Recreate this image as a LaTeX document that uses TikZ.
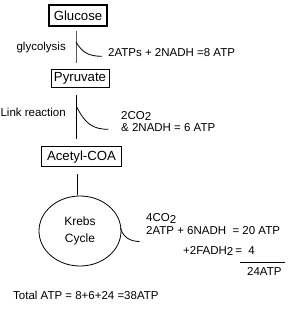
\documentclass[tikz,border=0pt]{standalone}
\usepackage{fontspec}
\setmainfont{Liberation Sans}
\usetikzlibrary{shapes.geometric}
\begin{document}
\begin{tikzpicture}[x=1pt,y=-1pt,
  txt/.style={inner sep=0pt,font=\fontsize{11.5}{13}\selectfont},
  stage/.style={draw,inner sep=0pt,font=\fontsize{13.2}{15}\selectfont},
  conn/.style={line width=0.8pt}]
\useasboundingbox (0,0) rectangle (287,316);
% boxes
\node[stage,line width=1.8pt,minimum width=58pt,minimum height=21.5pt] (glu) at (78,15.5) {Glucose};
\node[stage,line width=0.8pt,minimum width=58pt,minimum height=18pt] (pyr) at (80,78) {Pyruvate};
\node[stage,line width=0.8pt,minimum width=80pt,minimum height=20pt] (ace) at (81.5,156.7) {Acetyl-COA};
\node[draw,ellipse,line width=0.8pt,minimum width=82pt,minimum height=70pt,inner sep=0pt,align=center,font=\fontsize{12}{17}\selectfont] (krebs) at (80,231) {Krebs\\Cycle};
% vertical connectors
\coordinate (g1) at (76,30.5); \coordinate (g2) at (76,63);
\coordinate (p1) at (76.5,95); \coordinate (p2) at (76.5,138.5);
\coordinate (a1) at (77,174); \coordinate (a2) at (77,195);
\draw[line width=0.6pt,black!65] (g1) -- (g2);
\draw[line width=1pt] (p1) -- (p2);
\draw[line width=1pt] (a1) -- (a2);
% branch curves
\coordinate (gb) at (76,42); \coordinate (ge) at (102,56.3);
\draw[conn] (gb) .. controls (82,52) and (88,56.3) .. (ge);
\coordinate (pb) at (76.7,107); \coordinate (pe) at (108.3,129.3);
\draw[conn] (pb) .. controls (85,123) and (92,129.3) .. (pe);
\coordinate (kb) at (120.5,228); \coordinate (ke) at (139.5,241.5);
\draw[conn] (kb) .. controls (123,237) and (130,241.5) .. (ke);
% labels
\node[txt,anchor=east] (lglyc) at (66,48) {glycolysis};
\node[txt,anchor=west] (rglyc) at (108,53) {2ATPs + 2NADH =8 ATP};
\node[txt,anchor=east] (llink) at (66,112) {Link reaction};
\node[txt,anchor=west] (rlink1) at (121,115.5) {2CO\raisebox{-1pt}{2}};
\node[txt,anchor=west] (rlink2) at (121,127.5) {\& 2NADH = 6 ATP};
\node[txt,anchor=west] (k1) at (146,218.5) {4CO\raisebox{-1.5pt}{2}};
\node[txt,anchor=west] (k2) at (146,231) {2ATP + 6NADH\ \ = 20 ATP};
\node[txt,anchor=west] (k3) at (183,251) {+2FADH\raisebox{-1pt}{2}\,=\ \ 4};
\coordinate (s1) at (240,262); \coordinate (s2) at (285,262);
\draw[line width=0.8pt] (s1) -- (s2);
\node[txt,anchor=west] (k4) at (247,271) {24ATP};
\node[txt,anchor=west] (tot) at (13,295) {Total ATP = 8+6+24 =38ATP};
\end{tikzpicture}
\end{document}
